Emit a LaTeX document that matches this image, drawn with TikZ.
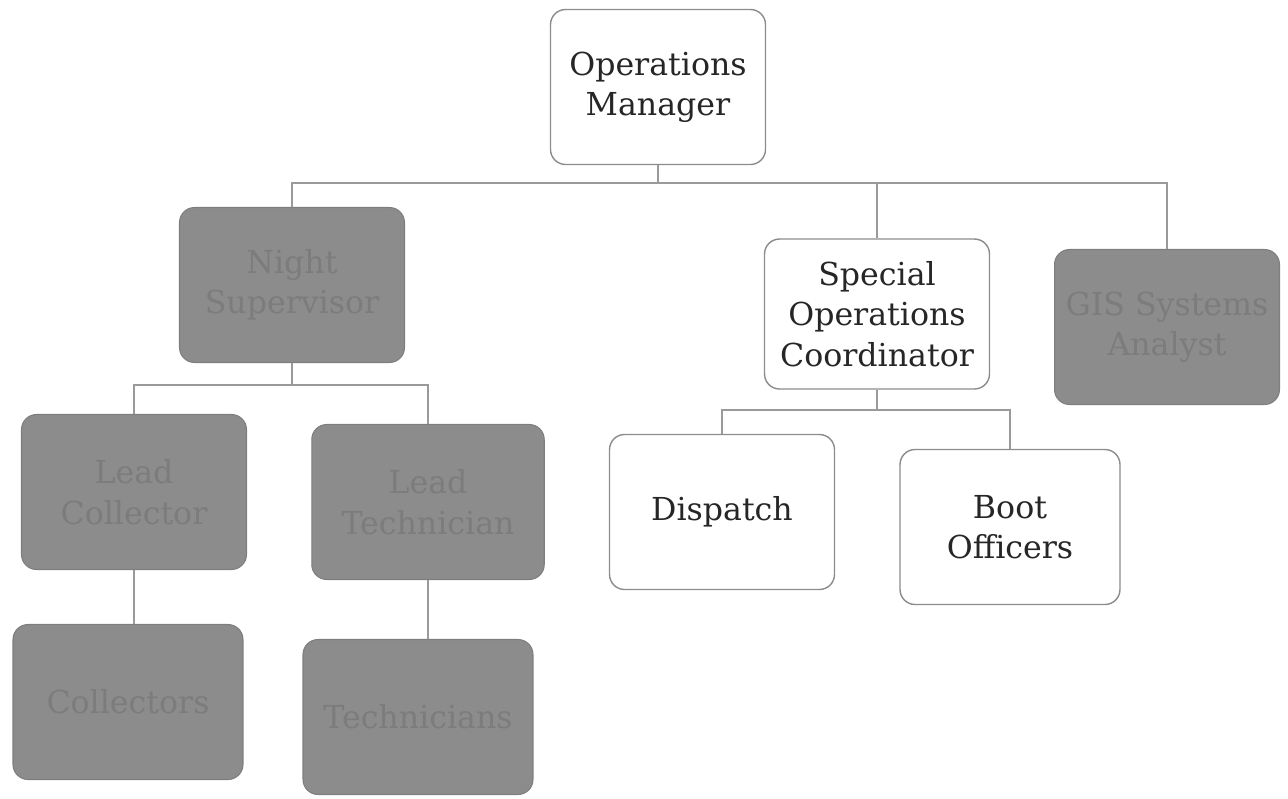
\documentclass[tikz,border=0pt]{standalone}
\usepackage{fontspec}
\setmainfont{DejaVu Serif}
\definecolor{boxgray}{HTML}{8C8C8C}
\definecolor{boxtext}{HTML}{7C7C7C}
\definecolor{linegray}{HTML}{9A9A9A}
\begin{document}
\begin{tikzpicture}[x=0.02cm,y=-0.02cm,
  every node/.style={font=\fontsize{18}{23}\selectfont, align=center},
  whitebox/.style={draw=black!45, line width=0.8pt, fill=white, rounded corners=0.3cm,
    minimum width=4.4cm, minimum height=3.1cm, text=black!85},
  graybox/.style={draw=boxgray!90!black, line width=0.6pt, fill=boxgray, rounded corners=0.3cm,
    minimum width=4.5cm, minimum height=3.1cm, text=boxtext},
  link/.style={draw=linegray, line width=1.6pt}]
  \useasboundingbox (0,0) rectangle (1288,798);
  % top level
  \node[whitebox, minimum width=4.3cm, minimum height=3.1cm] (om) at (658,87) {Operations\\Manager};
  % second level
  \node[graybox] (ns) at (292,285) {Night\\Supervisor};
  \node[whitebox, minimum width=4.5cm, minimum height=3.0cm] (soc) at (877,314) {Special\\Operations\\Coordinator};
  \node[graybox] (gis) at (1167,327) {GIS Systems\\Analyst};
  % third level
  \node[graybox] (lc) at (134,492) {Lead\\Collector};
  \node[graybox, minimum width=4.65cm] (lt) at (428,502) {Lead\\Technician};
  \node[whitebox, minimum width=4.5cm] (dis) at (722,512) {Dispatch};
  \node[whitebox] (bo) at (1010,527) {Boot\\Officers};
  % fourth level
  \node[graybox, minimum width=4.6cm] (col) at (128,702) {Collectors};
  \node[graybox, minimum width=4.6cm] (tech) at (418,717) {Technicians};
  % connectors
  \coordinate (bus1) at (658,183);
  \coordinate (bus2) at (292,385);
  \coordinate (bus3) at (877,410);
  \path[link] (om.south) -- (bus1);
  \path[link] (ns.north) |- (bus1);
  \path[link] (soc.north) |- (bus1);
  \path[link] (gis.north) |- (bus1);
  \path[link] (ns.south) -- (bus2);
  \path[link] (lc.north) |- (bus2);
  \path[link] (lt.north) |- (bus2);
  \path[link] (soc.south) -- (bus3);
  \path[link] (dis.north) |- (bus3);
  \path[link] (bo.north) |- (bus3);
  \path[link] (lc.south) -- (lc.south |- col.north);
  \path[link] (lt.south) -- (lt.south |- tech.north);
\end{tikzpicture}
\end{document}
